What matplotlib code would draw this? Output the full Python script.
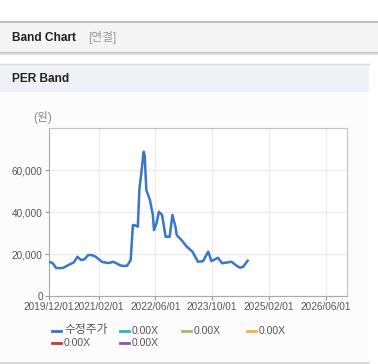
import numpy as np
import pandas as pd
import matplotlib
matplotlib.use("Agg")
import matplotlib.pyplot as plt
import matplotlib.dates as mdates
from matplotlib.patches import Rectangle
from matplotlib.lines import Line2D

plt.rcParams['font.family'] = ['Liberation Sans', 'Noto Sans CJK KR']

# price series (수정주가)
dates = ["2019-12-01", "2020-01-01", "2020-02-01", "2020-03-01", "2020-04-01",
         "2020-05-01", "2020-06-01", "2020-07-01", "2020-08-01", "2020-09-01",
         "2020-10-01", "2020-11-01", "2020-12-01", "2021-01-01", "2021-02-01",
         "2021-03-01", "2021-04-01", "2021-05-01", "2021-06-01", "2021-07-01",
         "2021-08-01", "2021-09-01", "2021-10-01", "2021-11-01", "2021-11-20",
         "2021-12-01", "2022-01-01", "2022-01-15", "2022-02-01", "2022-02-20",
         "2022-03-01", "2022-03-15", "2022-04-15", "2022-05-10", "2022-05-20",
         "2022-06-10", "2022-07-01", "2022-07-28", "2022-08-28", "2022-10-01",
         "2022-10-25", "2022-11-20", "2022-12-01", "2023-01-10", "2023-02-25",
         "2023-04-15", "2023-05-20", "2023-06-01", "2023-07-15", "2023-08-28",
         "2023-09-25", "2023-11-20", "2023-12-25", "2024-03-15", "2024-04-28",
         "2024-05-25", "2024-06-20", "2024-08-01"]
prices = [16300, 15700, 13300, 13300, 13400,
          14300, 15200, 16000, 18700, 17100,
          17500, 19500, 19500, 18800, 17500,
          16200, 15900, 15700, 16300, 15600,
          14600, 14300, 14400, 17100, 33800,
          33800, 33000, 51000, 59000, 68700,
          67000, 50500, 45700, 38600, 31400,
          34500, 40100, 38600, 28200, 28200,
          38600, 33000, 29000, 26700, 23500,
          21100, 17500, 16300, 16600, 21100,
          16600, 18200, 15600, 16300, 14400,
          13500, 13800, 16800]

x_ticks = ["2019-12-01", "2021-02-01", "2022-06-01", "2023-10-01", "2025-02-01", "2026-06-01"]
y_ticks = [0, 20000, 40000, 60000]

legend_labels = ["수정주가", "0.00X", "0.00X", "0.00X", "0.00X", "0.00X"]
legend_colors = ["#3b73c4", "#27b3c4", "#98c05e", "#f2b443", "#c33a32", "#8e58a6"]

W, H = 378, 364
fig = plt.figure(figsize=(W / 100, H / 100), dpi=100)
fig.patch.set_facecolor("white")


def fy(py):
    return 1 - py / H


# page decorations
fig.patches.append(Rectangle((0, fy(52)), 1, (52 - 22) / H, transform=fig.transFigure,
                             facecolor="#f4f4f4", edgecolor="none", zorder=0))
fig.add_artist(Line2D([0, 1], [fy(22), fy(22)], color="#b5b5b5", lw=1.2, transform=fig.transFigure))
fig.add_artist(Line2D([0, 1], [fy(52.5), fy(52.5)], color="#c8c8c8", lw=1.5, transform=fig.transFigure))
fig.add_artist(Line2D([0, 1], [fy(54), fy(54)], color="#e6e6e6", lw=1.0, transform=fig.transFigure))
fig.patches.append(Rectangle((0, fy(362)), 369 / W, (362 - 92) / H, transform=fig.transFigure,
                             facecolor="#fcfcfc", edgecolor="none", zorder=0))
fig.patches.append(Rectangle((0, fy(92)), 369 / W, (92 - 64) / H, transform=fig.transFigure,
                             facecolor="#eef2f8", edgecolor="none", zorder=0))
fig.add_artist(Line2D([0, 369 / W], [fy(64), fy(64)], color="#dadada", lw=1.0, transform=fig.transFigure))
fig.add_artist(Line2D([0, 369 / W], [fy(362.5), fy(362.5)], color="#cfcfcf", lw=1.2, transform=fig.transFigure))

fig.text(12 / W, fy(38), "Band Chart", fontsize=8.6, fontweight="bold", color="#222222", va="center")
fig.text(88 / W, fy(38), "[연결]", fontsize=8.5, color="#9a9a9a", va="center")
fig.text(12 / W, fy(79), "PER Band", fontsize=8.6, fontweight="bold", color="#222222", va="center")
fig.text(33 / W, fy(117), "(원)", fontsize=8.5, color="#888888", va="center")

# chart
ax = fig.add_axes([49 / W, fy(296), (347 - 49) / W, (296 - 128) / H])
ax.set_zorder(5)
ax.set_facecolor("white")
ax.plot(pd.to_datetime(dates), prices, color="#3a76c9", lw=1.8, zorder=3)

ax.set_ylim(0, 80000)
ax.set_xlim(pd.Timestamp("2019-12-01"), pd.Timestamp("2026-12-01"))
ax.set_yticks(y_ticks)
ax.set_yticklabels([f"{v:,}" for v in y_ticks])
ax.set_xticks(pd.to_datetime(x_ticks))
ax.xaxis.set_major_formatter(mdates.DateFormatter("%Y/%m/%d"))
ax.grid(True, color="#ececec", lw=0.9)
ax.set_axisbelow(True)
ax.tick_params(axis="both", labelsize=7.2, colors="#999999", labelcolor="#555555", length=3, width=0.8, pad=1.5)
for side in ["left", "bottom"]:
    ax.spines[side].set_color("#aaaaaa")
for side in ["top", "right"]:
    ax.spines[side].set_color("#c4c4c4")

# legend laid out on a fixed grid like the original
col_x = [52, 120, 182, 247]
row_y = [330.5, 343]
for i, (lab, col) in enumerate(zip(legend_labels, legend_colors)):
    cx = col_x[i % 4]
    cy = row_y[i // 4]
    fig.add_artist(Line2D([cx / W, (cx + 9) / W], [fy(cy), fy(cy)], color=col, lw=2,
                          transform=fig.transFigure))
    size = 8.5 if i == 0 else 7.5
    fig.text((cx + 12) / W, fy(cy), lab, fontsize=size, color="#555555", va="center")

fig.savefig("out.png", dpi=100)
